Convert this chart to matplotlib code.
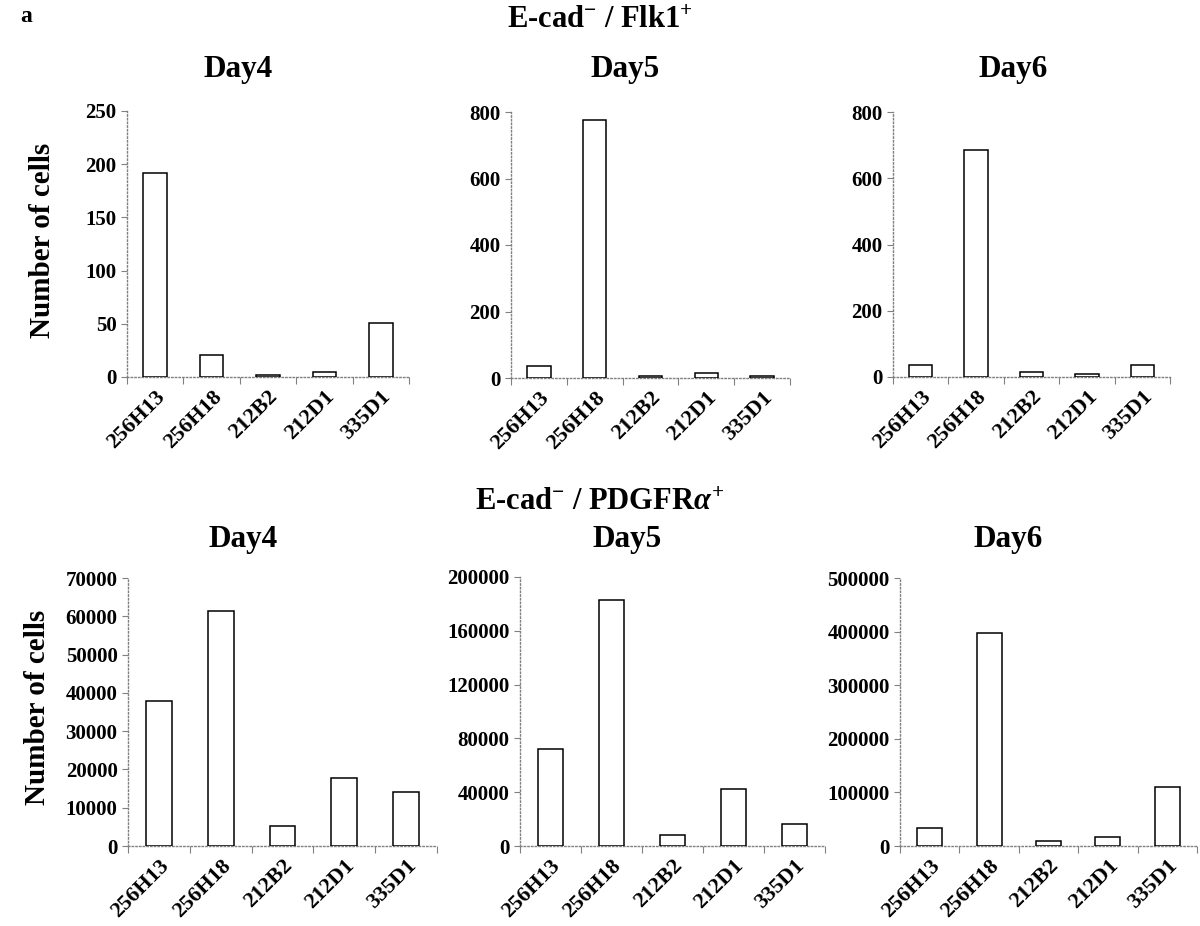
import numpy as np
import matplotlib
matplotlib.use("Agg")
import matplotlib.pyplot as plt

plt.rcParams['font.family'] = ['Liberation Serif', 'DejaVu Serif']
plt.rcParams['font.weight'] = 'bold'
plt.rcParams['mathtext.fontset'] = 'custom'
plt.rcParams['mathtext.rm'] = 'Liberation Serif:bold'
plt.rcParams['mathtext.it'] = 'Liberation Serif:italic:bold'
plt.rcParams['mathtext.bf'] = 'Liberation Serif:bold'

clones = ["256H13", "256H18", "212B2", "212D1", "335D1"]
days = ["Day4", "Day5", "Day6"]

# E-cad- / Flk1+
flk_day4 = [192, 21, 2, 5, 51]
flk_day5 = [35, 775, 5, 15, 5]
flk_day6 = [35, 685, 15, 8, 35]

# E-cad- / PDGFRa+
pdg_day4 = [38000, 61500, 5300, 17800, 14000]
pdg_day5 = [72000, 183000, 8500, 42500, 16000]
pdg_day6 = [33000, 398000, 10000, 16000, 110000]

flk_ymax = [250, 800, 800]
flk_ystep = [50, 200, 200]
pdg_ymax = [70000, 200000, 500000]
pdg_ystep = [10000, 40000, 100000]

fig = plt.figure(figsize=(12, 9.26), dpi=100)

W, H = 1200.0, 926.0
def axbox(l, r, top, bot):
    return [l / W, 1 - bot / H, (r - l) / W, (bot - top) / H]

top_boxes = [axbox(127, 409, 111, 377), axbox(511, 790, 112, 378), axbox(893, 1170, 112, 377)]
bot_boxes = [axbox(128, 437, 578, 846), axbox(520, 825, 577, 846), axbox(900, 1197, 578, 846)]

def panel(box, vals, ymax, ystep):
    ax = fig.add_axes(box)
    x = np.arange(len(clones))
    ax.bar(x, vals, width=0.42, color='white', edgecolor='black', linewidth=1.1, zorder=3)
    ax.set_xlim(-0.5, len(clones) - 0.5)
    ax.set_ylim(0, ymax)
    ax.set_yticks(np.arange(0, ymax + 1, ystep))
    ax.set_xticks(np.arange(-0.5, len(clones)), labels=[])
    ax.set_xticks(x, minor=True)
    ax.set_xticklabels(clones, minor=True, rotation=45, ha='right', va='top',
                       rotation_mode='anchor', fontsize=16, fontweight='bold')
    ax.tick_params(axis='x', which='minor', length=0, pad=7)
    ax.tick_params(axis='x', which='major', length=5, color='gray', width=0.8)
    ax.tick_params(axis='y', length=4, color='gray', width=0.8, labelsize=15)
    for lab in ax.get_yticklabels():
        lab.set_fontweight('bold')
    for s in ['top', 'right']:
        ax.spines[s].set_visible(False)
    for s in ['left', 'bottom']:
        ax.spines[s].set_color('gray')
        ax.spines[s].set_linestyle(':')
        ax.spines[s].set_linewidth(1.0)
    return ax

flk = [flk_day4, flk_day5, flk_day6]
pdg = [pdg_day4, pdg_day5, pdg_day6]
for i in range(3):
    panel(top_boxes[i], flk[i], flk_ymax[i], flk_ystep[i])
    panel(bot_boxes[i], pdg[i], pdg_ymax[i], pdg_ystep[i])

fig.text(20 / W, 1 - 17 / H, "a", fontsize=17, fontweight='bold', va='center')
fig.text(600 / W, 1 - 20 / H, r"E-cad$^{-}$ / Flk1$^{+}$", fontsize=22, ha='center', va='center')
fig.text(600 / W, 1 - 503 / H, r"E-cad$^{-}$ / PDGFR$\mathit{\alpha}^{+}$", fontsize=22, ha='center', va='center')

top_x = [238, 625, 1013]
bot_x = [243, 627, 1008]
for i, d in enumerate(days):
    fig.text(top_x[i] / W, 1 - 70 / H, d, fontsize=22.5, ha='center', va='center')
    fig.text(bot_x[i] / W, 1 - 540 / H, d, fontsize=22.5, ha='center', va='center')

fig.text(42 / W, 1 - 240 / H, "Number of cells", fontsize=21, rotation=90, ha='center', va='center')
fig.text(38 / W, 1 - 707 / H, "Number of cells", fontsize=21, rotation=90, ha='center', va='center')

fig.savefig("out.png", dpi=100, facecolor='white')
